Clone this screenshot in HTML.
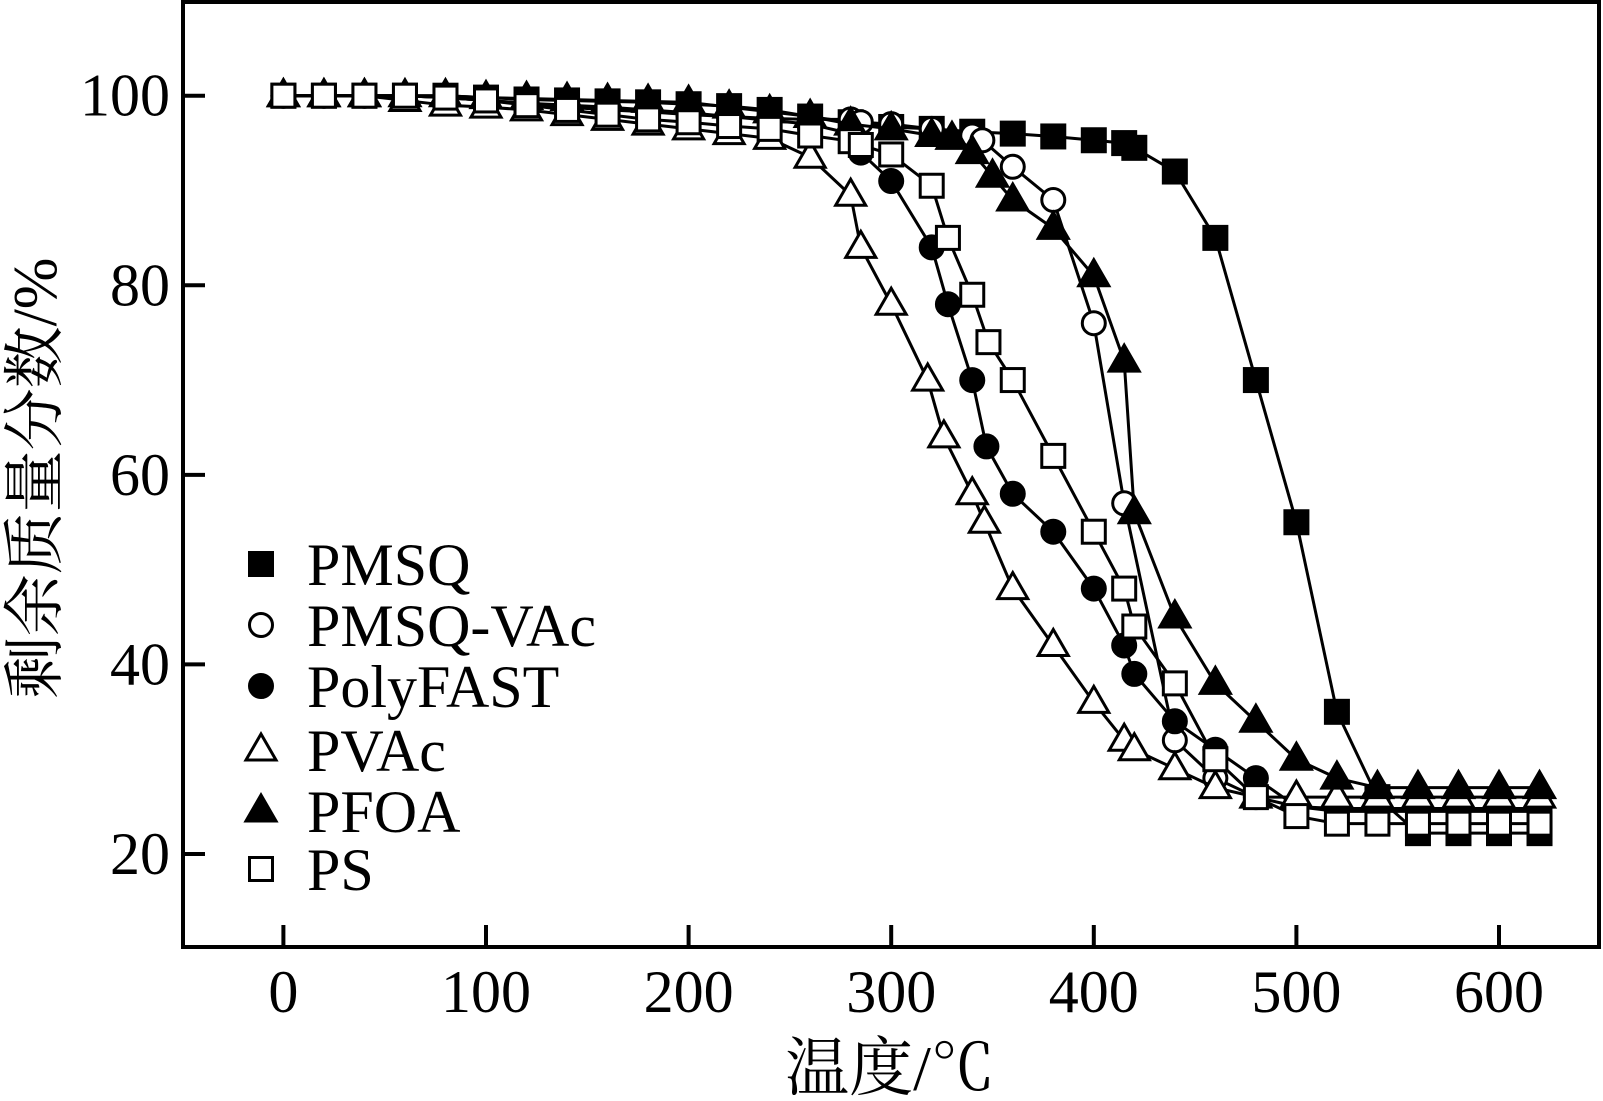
<!DOCTYPE html>
<html><head><meta charset="utf-8"><style>
html,body{margin:0;padding:0;background:#fff;}
svg{display:block;font-family:"Liberation Serif","Noto Serif CJK SC",serif;}
</style></head><body>
<svg id="chart" width="1603" height="1101" viewBox="0 0 1603 1101" xmlns="http://www.w3.org/2000/svg">
<rect x="0" y="0" width="1603" height="1101" fill="#fff"/>
<g id="plot"></g>
<text x="890" y="1090" font-size="64" text-anchor="middle">温度/℃</text>
<text transform="translate(56,478) rotate(-90)" font-size="62" text-anchor="middle">剩余质量分数/%</text>
</svg>
<script>
const xTicks=[0,100,200,300,400,500,600];
const yTicks=[20,40,60,80,100];
const seriesNames=["PMSQ","PMSQ-VAc","PolyFAST","PVAc","PFOA","PS"];
const pmsqX=[0,20,40,60,80,100,120,140,160,180,200,220,240,260,280,300,320,340,360,380,400,415,420,440,460,480,500,520,540,560,580,600,620];
const pmsqY=[100,100,100,100,100,99.8,99.6,99.5,99.4,99.3,99.1,98.9,98.5,97.8,97.2,96.7,96.5,96.2,96,95.7,95.3,95,94.5,92,85,70,55,35,26,22.2,22.2,22.2,22.2];
const vacX=[0,20,40,60,80,100,120,140,160,180,200,220,240,260,280,285,300,320,340,345,360,380,400,415,440,460,480,500,520,540,560,580,600,620];
const vacY=[100,100,100,100,99.8,99.5,99.2,98.8,98.5,98.3,98,97.8,97.6,97.5,97.5,97.2,97,96.5,95.8,95.3,92.5,89,76,57,32,28,26,25,24.8,24.8,24.8,24.8,24.8,24.8];
const fastX=[0,20,40,60,80,100,120,140,160,180,200,220,240,260,280,285,300,320,328,340,347,360,380,400,415,420,440,460,480,500,520,540,560,580,600,620];
const fastY=[100,100,100,100,99.8,99.5,99.2,99,98.8,98.5,98.2,97.8,97.4,97,96,94,91,84,78,70,63,58,54,48,42,39,34,31,28,25,24.5,24.5,24.5,24.5,24.5,24.5];
const pvacX=[0,20,40,60,80,100,120,140,160,180,200,220,240,260,280,285,300,318,326,340,346,360,380,400,415,420,440,460,480,500,520,540,560,580,600,620];
const pvacY=[100,100,100,99.5,99,98.8,98.5,98,97.5,97,96.5,96,95.5,93.5,89.5,84,78,70,64,58,55,48,42,36,32,31,29,27,26,26,26,26,26,26,26,26];
const pfoaX=[0,20,40,60,80,100,120,140,160,180,200,220,240,260,280,300,320,330,340,350,360,380,400,415,420,440,460,480,500,520,540,560,580,600,620];
const pfoaY=[100,100,100,100,100,99.8,99.7,99.6,99.5,99.4,99.3,98.8,98.3,97.8,97,96.5,95.8,95.5,94,91.5,89,86,81,72,56,45,38,34,30,28,27,27,27,27,27];
const psX=[0,20,40,60,80,100,120,140,160,180,200,220,240,260,280,285,300,320,328,340,348,360,380,400,415,420,440,460,480,500,520,540,560,580,600,620];
const psY=[100,100,100,100,99.8,99.5,99,98.5,98,97.5,97.2,96.8,96.5,95.8,95.2,94.8,93.8,90.5,85,79,74,70,62,54,48,44,38,30,26,24,23.2,23.2,23.2,23.2,23.2,23.2];
const allX=[pmsqX,vacX,fastX,pvacX,pfoaX,psX];
const allY=[pmsqY,vacY,fastY,pvacY,pfoaY,psY];
const markers=["fsq","ocirc","fcirc","otri","ftri","osq"];

const NS="http://www.w3.org/2000/svg";
const L=183,R=1599,T=2,B=947;
const sx=v=>283.4+(v-0)*(1499-283.4)/600;
const sy=v=>95.7+(100-v)*(854-95.7)/80;
const g=document.getElementById('plot');
function mk(tag,attrs,parent){const e=document.createElementNS(NS,tag);for(const k in attrs)e.setAttribute(k,attrs[k]);(parent||g).appendChild(e);return e;}

const frame=mk('rect',{x:L,y:T,width:R-L,height:B-T,fill:'none',stroke:'#000','stroke-width':4});


xTicks.forEach(t=>{
  const ln=mk('line',{x1:sx(t),x2:sx(t),y1:B,y2:B-22,stroke:'#000','stroke-width':4});
  
  
  const tx=mk('text',{x:sx(t),y:1012,'font-size':60,'text-anchor':'middle'});
  tx.textContent=t;
  
  
});
yTicks.forEach(t=>{
  const ln=mk('line',{x1:L,x2:L+22,y1:sy(t),y2:sy(t),stroke:'#000','stroke-width':4});
  
  
  const tx=mk('text',{x:170,y:sy(t)+20,'font-size':60,'text-anchor':'end'});
  tx.textContent=t;
  
  
});
function marker(type,x,y,parent){
  const filled=type[0]==='f';
  const st={fill:filled?'#000':'#fff',stroke:'#000','stroke-width':3};
  let e;
  if(type.endsWith('sq')) e=mk('rect',Object.assign({x:x-11.5,y:y-11.5,width:23,height:23},st),parent);
  else if(type.endsWith('circ')) e=mk('circle',Object.assign({cx:x,cy:y,r:11.5},st),parent);
  else e=mk('polygon',Object.assign({points:`${x},${y-16} ${x-15},${y+10} ${x+15},${y+10}`},st),parent);
  return e;
}
allX.forEach((xs,i)=>{
  const sg=mk('g',{});
  
  
  const pts=xs.map((x,j)=>sx(x)+','+sy(allY[i][j])).join(' ');
  const pl=mk('polyline',{points:pts,fill:'none',stroke:'#000','stroke-width':3},sg);
  
  
  xs.forEach((x,j)=>{
    const m=marker(markers[i],sx(x),sy(allY[i][j]),sg);
    
    
  });
});
const legendY=[564,625,686,750,811,869];
seriesNames.forEach((n,i)=>{
  const lg=mk('g',{});
  
  
  marker(markers[i],261,legendY[i],lg);
  const tx=mk('text',{x:307,y:legendY[i]+21,'font-size':60},lg);
  tx.textContent=n;
});
</script>
</body></html>
